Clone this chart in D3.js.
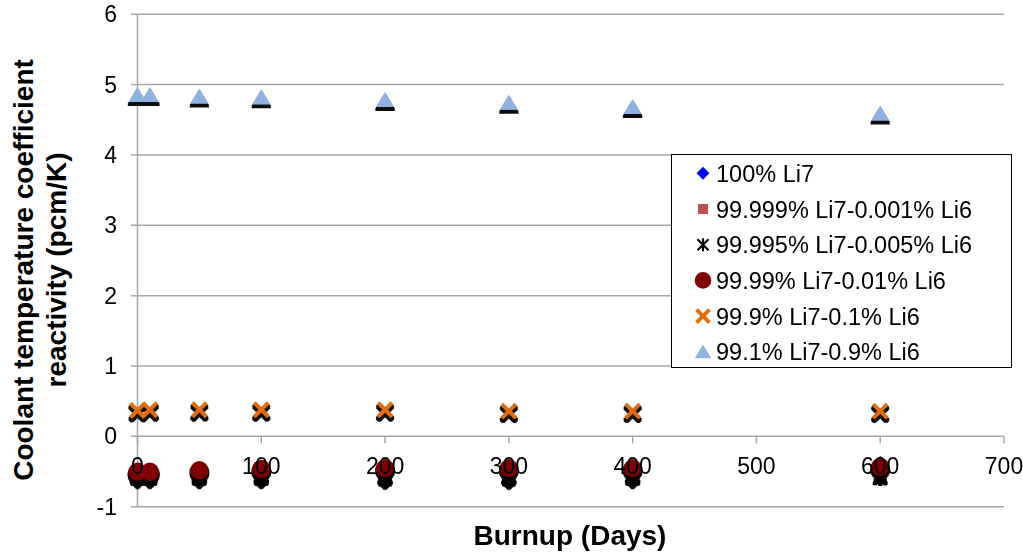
<!DOCTYPE html>
<html>
<head>
<meta charset="utf-8">
<script src="https://cdn.jsdelivr.net/npm/d3@7"></script>
<style>
  html, body { margin: 0; padding: 0; background: #fff; }
  svg { display: block; font-family: "Liberation Sans", Arial, sans-serif; }
</style>
</head>
<body>
<svg id="chart" width="1023" height="560"></svg>
<script>
// ---- data ----
const days = [0, 10, 50, 100, 200, 300, 400, 600];
const seriesNames = [
  "100% Li7",
  "99.999% Li7-0.001% Li6",
  "99.995% Li7-0.005% Li6",
  "99.99% Li7-0.01% Li6",
  "99.9% Li7-0.1% Li6",
  "99.1% Li7-0.9% Li6"
];
const li7_100     = [-0.60, -0.60, -0.60, -0.60, -0.61, -0.61, -0.60, -0.38];
const li6_0001    = [-0.57, -0.57, -0.57, -0.57, -0.58, -0.58, -0.57, -0.55];
const li6_0005    = [-0.55, -0.55, -0.55, -0.55, -0.55, -0.55, -0.55, -0.55];
const li6_001     = [-0.50, -0.50, -0.48, -0.46, -0.45, -0.45, -0.45, -0.43];
const li6_01      = [0.37, 0.38, 0.38, 0.38, 0.38, 0.36, 0.36, 0.36];
const li6_09      = [4.85, 4.85, 4.83, 4.82, 4.78, 4.74, 4.68, 4.59];
const xTicks = [0, 100, 200, 300, 400, 500, 600, 700];
const yTicks = [-1, 0, 1, 2, 3, 4, 5, 6];

const seriesValues = [li7_100, li6_0001, li6_0005, li6_001, li6_01, li6_09];
const colors = ["#0000FF", "#C0504D", "#000000", "#800000", "#E46C0A", "#8DB3E2"];
const kinds = ["diamond", "square", "star", "circle", "x", "triangle"];

// ---- scales ----
const x = d3.scaleLinear().domain([0, 700]).range([137.5, 1004]);
const y = d3.scaleLinear().domain([-1, 6]).range([506.7, 14.2]);

const svg = d3.select("#chart");
const defs = svg.append("defs");
const f = defs.append("filter").attr("id", "shadow")
  .attr("x", "-50%").attr("y", "-50%").attr("width", "200%").attr("height", "200%");
f.append("feMorphology").attr("in", "SourceAlpha").attr("operator", "dilate").attr("radius", 0.8).attr("result", "dil");
f.append("feOffset").attr("in", "dil").attr("dx", 0).attr("dy", 3).attr("result", "off");
f.append("feGaussianBlur").attr("in", "off").attr("stdDeviation", 0.5).attr("result", "blur");
f.append("feFlood").attr("flood-color", "#000").attr("flood-opacity", 0.95).attr("result", "col");
f.append("feComposite").attr("in", "col").attr("in2", "blur").attr("operator", "in").attr("result", "sh");
const fm = f.append("feMerge");
fm.append("feMergeNode").attr("in", "sh");
fm.append("feMergeNode").attr("in", "SourceGraphic");

const gridColor = "#a6a6a6";

// gridlines (y)
svg.append("g").selectAll("line").data(yTicks).join("line")
  .attr("x1", 131).attr("x2", 1004)
  .attr("y1", d => y(d)).attr("y2", d => y(d))
  .attr("stroke", gridColor).attr("stroke-width", 1.5);

// y axis line
svg.append("line").attr("x1", x(0)).attr("x2", x(0))
  .attr("y1", y(6)).attr("y2", y(-1))
  .attr("stroke", gridColor).attr("stroke-width", 1.5);

// x axis tick marks (axis at y=0)
svg.append("g").selectAll("line").data(xTicks).join("line")
  .attr("x1", d => x(d)).attr("x2", d => x(d))
  .attr("y1", y(0)).attr("y2", y(0) + 7)
  .attr("stroke", gridColor).attr("stroke-width", 1.5);

// ---- marker shapes ----
function marker(g, kind, color, s) {
  s = s || 1;
  if (kind === "diamond") {
    g.append("path").attr("d", `M0,${-7*s}L${7*s},0L0,${7*s}L${-7*s},0Z`).attr("fill", color);
  } else if (kind === "square") {
    g.append("rect").attr("x", -5.5*s).attr("y", -5.5*s).attr("width", 11*s).attr("height", 11*s).attr("fill", color);
  } else if (kind === "star") {
    const a = 6*s;
    g.append("path").attr("d", `M${-a},${-a}L${a},${a}M${-a},${a}L${a},${-a}M0,${-a-1}L0,${a+1}`)
      .attr("stroke", color).attr("stroke-width", 2.2).attr("fill", "none");
  } else if (kind === "circle") {
    g.append("circle").attr("r", 9*s).attr("fill", color);
  } else if (kind === "x") {
    const a = 7*s;
    g.append("path").attr("d", `M${-a},${-a}L${a},${a}M${-a},${a}L${a},${-a}`)
      .attr("stroke", color).attr("stroke-width", 3.8).attr("fill", "none");
  } else if (kind === "triangle") {
    g.append("path").attr("d", `M0,${-8*s}L${9*s},${7*s}L${-9*s},${7*s}Z`).attr("fill", color);
  }
}

// ---- series ----
const plot = svg.append("g");
seriesValues.forEach((vals, i) => {
  const sg = plot.append("g").attr("filter", "url(#shadow)");
  days.forEach((d, j) => {
    const g = sg.append("g").attr("transform", `translate(${x(d)},${y(vals[j])})`);
    marker(g, kinds[i], colors[i], 1);
  });
});

// ---- tick labels ----
svg.append("g").selectAll("text").data(xTicks).join("text")
  .attr("x", d => x(d)).attr("y", 474)
  .attr("text-anchor", "middle").attr("font-size", 23).attr("fill", "#000")
  .text(d => d);
svg.append("g").selectAll("text").data(yTicks).join("text")
  .attr("x", 117).attr("y", d => y(d) + 8)
  .attr("text-anchor", "end").attr("font-size", 23).attr("fill", "#000")
  .text(d => d);

// ---- axis titles ----
svg.append("text").attr("x", 570).attr("y", 545)
  .attr("text-anchor", "middle").attr("font-size", 28).attr("font-weight", "bold")
  .text("Burnup (Days)");
svg.append("text").attr("transform", "translate(33,270) rotate(-90)")
  .attr("text-anchor", "middle").attr("font-size", 28).attr("font-weight", "bold")
  .text("Coolant temperature coefficient");
svg.append("text").attr("transform", "translate(66,270) rotate(-90)")
  .attr("text-anchor", "middle").attr("font-size", 28).attr("font-weight", "bold")
  .text("reactivity (pcm/K)");

// ---- legend ----
const lg = svg.append("g");
lg.append("rect").attr("x", 671.5).attr("y", 154.5).attr("width", 340).attr("height", 213)
  .attr("fill", "#fff").attr("stroke", "#000").attr("stroke-width", 1);
seriesNames.forEach((name, i) => {
  const cy = 173.3 + i * 35.7;
  const g = lg.append("g").attr("transform", `translate(703,${cy})`);
  marker(g, kinds[i], colors[i], 0.92);
  lg.append("text").attr("x", 716).attr("y", cy + 8.5)
    .attr("font-size", 23.5).attr("fill", "#000").text(name);
});
</script>
</body>
</html>
